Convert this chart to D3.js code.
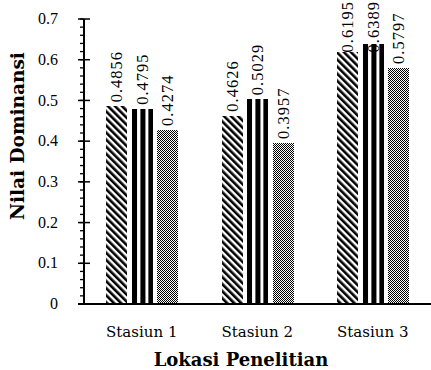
<!DOCTYPE html>
<meta charset="utf-8">
<head>
  <script src="https://d3js.org/d3.v7.min.js"></script>
  <style>
    body { margin: 0; background: #fff; }
  </style>
</head>
<body>
<svg id="chart" width="431" height="370"></svg>
<script>
var categories = ["Stasiun 1", "Stasiun 2", "Stasiun 3"];
var seriesNames = ["s1", "s2", "s3"];
var seriesValues = [
  [0.4856, 0.4795, 0.4274],
  [0.4626, 0.5029, 0.3957],
  [0.6195, 0.6389, 0.5797]
];
var yTicks = [0, 0.1, 0.2, 0.3, 0.4, 0.5, 0.6, 0.7];
var yMinorTicks = d3.range(0, 0.701, 0.02);

var svg = d3.select("#chart"),
    width = +svg.attr("width"),
    height = +svg.attr("height");

// note: "top" is taken by window.top, so use other names
var mLeft = 84, mRight = 430.5, mTop = 19, mBottom = 304;

var defs = svg.append("defs");

// diagonal hatch
var p1 = defs.append("pattern")
  .attr("id", "pat-diag")
  .attr("patternUnits", "userSpaceOnUse")
  .attr("width", 5).attr("height", 5)
  .attr("patternTransform", "rotate(-45)");
p1.append("rect").attr("width", 5).attr("height", 5).attr("fill", "#fff");
p1.append("rect").attr("width", 2.6).attr("height", 5).attr("fill", "#000");

// vertical stripes (relative to the bar)
var p2 = defs.append("pattern")
  .attr("id", "pat-vert")
  .attr("patternUnits", "objectBoundingBox")
  .attr("patternContentUnits", "objectBoundingBox")
  .attr("width", 1).attr("height", 1);
p2.append("rect").attr("width", 1).attr("height", 1).attr("fill", "#fff");
[[0, 0.24], [0.4, 0.24], [0.78, 0.22]].forEach(function(s) {
  p2.append("rect").attr("x", s[0]).attr("width", s[1]).attr("height", 1).attr("fill", "#000");
});

// fine checker, 1px cells in an 8px tile
var p3 = defs.append("pattern")
  .attr("id", "pat-check")
  .attr("patternUnits", "userSpaceOnUse")
  .attr("width", 8).attr("height", 8);
p3.append("rect").attr("width", 8).attr("height", 8).attr("fill", "#fff");
d3.range(8).forEach(function(r) {
  d3.range(8).forEach(function(c) {
    if ((r + c) % 2 === 0) {
      p3.append("rect").attr("x", c).attr("y", r).attr("width", 1).attr("height", 1)
        .attr("fill", "#000").attr("shape-rendering", "crispEdges");
    }
  });
});

var fills = { s1: "url(#pat-diag)", s2: "url(#pat-vert)", s3: "url(#pat-check)" };

var x0 = d3.scaleBand().domain(categories).range([mLeft, mRight]).padding(0);
var x1 = d3.scaleBand().domain(seriesNames)
  .range([22, x0.bandwidth() - 21.5]).paddingInner(0.2);
var y = d3.scaleLinear().domain([0, 0.7]).range([mBottom, mTop]);

function rows(d, i) {
  return seriesNames.map(function(s, j) { return { s: s, v: seriesValues[i][j], cat: d }; });
}

// bars
var groups = svg.append("g").selectAll("g")
  .data(categories)
  .join("g");

groups.selectAll("rect")
  .data(rows)
  .join("rect")
  .attr("x", function(d) { return Math.round(x0(d.cat) + x1(d.s)); })
  .attr("y", function(d) { return Math.round(y(d.v)); })
  .attr("width", Math.round(x1.bandwidth()))
  .attr("height", function(d) { return Math.round(y(0)) - Math.round(y(d.v)); })
  .attr("fill", function(d) { return fills[d.s]; });

// value labels, pushed down when they would run off the top
groups.selectAll("text")
  .data(rows)
  .join("text")
  .attr("dy", "0.35em")
  .style("font-family", "'Liberation Serif', serif")
  .style("font-size", "16.5px")
  .style("letter-spacing", "1px")
  .text(function(d) { return d.v.toFixed(4); })
  .attr("transform", function(d) {
    var len = this.getComputedTextLength();
    var base = Math.max(y(d.v) - 4, len + 1);
    var cx = x0(d.cat) + x1(d.s) + x1.bandwidth() / 2;
    return "translate(" + cx + "," + base + ") rotate(-90)";
  });

// y axis
var yAxis = svg.append("g")
  .attr("transform", "translate(" + mLeft + ",0)");

yAxis.selectAll(".minor")
  .data(yMinorTicks)
  .join("line")
  .attr("class", "minor")
  .attr("x1", -4).attr("x2", 0)
  .attr("y1", function(d) { return y(d); })
  .attr("y2", function(d) { return y(d); })
  .attr("stroke", "#000").attr("stroke-width", 1.3);

yAxis.selectAll(".major")
  .data(yTicks)
  .join("line")
  .attr("class", "major")
  .attr("x1", -6).attr("x2", 6)
  .attr("y1", function(d) { return y(d); })
  .attr("y2", function(d) { return y(d); })
  .attr("stroke", "#000").attr("stroke-width", 1.5);

yAxis.append("line")
  .attr("x1", 0).attr("x2", 0)
  .attr("y1", y(0.7)).attr("y2", y(0))
  .attr("stroke", "#000").attr("stroke-width", 2);

yAxis.selectAll(".lab")
  .data(yTicks)
  .join("text")
  .attr("class", "lab")
  .attr("x", -26)
  .attr("y", function(d) { return y(d); })
  .attr("dy", "0.32em")
  .attr("text-anchor", "end")
  .style("font-family", "'Liberation Serif', serif")
  .style("font-size", "16px")
  .text(function(d) { return d === 0 ? "0" : d3.format(".1f")(d); });

// x axis line
svg.append("line")
  .attr("x1", mLeft - 6).attr("x2", width)
  .attr("y1", y(0)).attr("y2", y(0))
  .attr("stroke", "#000").attr("stroke-width", 2);

svg.append("g").selectAll("text")
  .data(categories)
  .join("text")
  .attr("x", function(d) { return x0(d) + x0.bandwidth() / 2; })
  .attr("y", 337)
  .attr("text-anchor", "middle")
  .style("font-family", "'DejaVu Serif', serif")
  .style("font-size", "15px")
  .text(function(d) { return d; });

// titles
svg.append("text")
  .attr("x", 241)
  .attr("y", 366)
  .attr("text-anchor", "middle")
  .style("font-family", "'DejaVu Serif', serif")
  .style("font-weight", "bold")
  .style("font-size", "18px")
  .text("Lokasi Penelitian");

svg.append("text")
  .attr("transform", "translate(24,136) rotate(-90)")
  .attr("text-anchor", "middle")
  .style("font-family", "'DejaVu Serif', serif")
  .style("font-weight", "bold")
  .style("font-size", "18.5px")
  .text("Nilai Dominansi");
</script>
</body>
